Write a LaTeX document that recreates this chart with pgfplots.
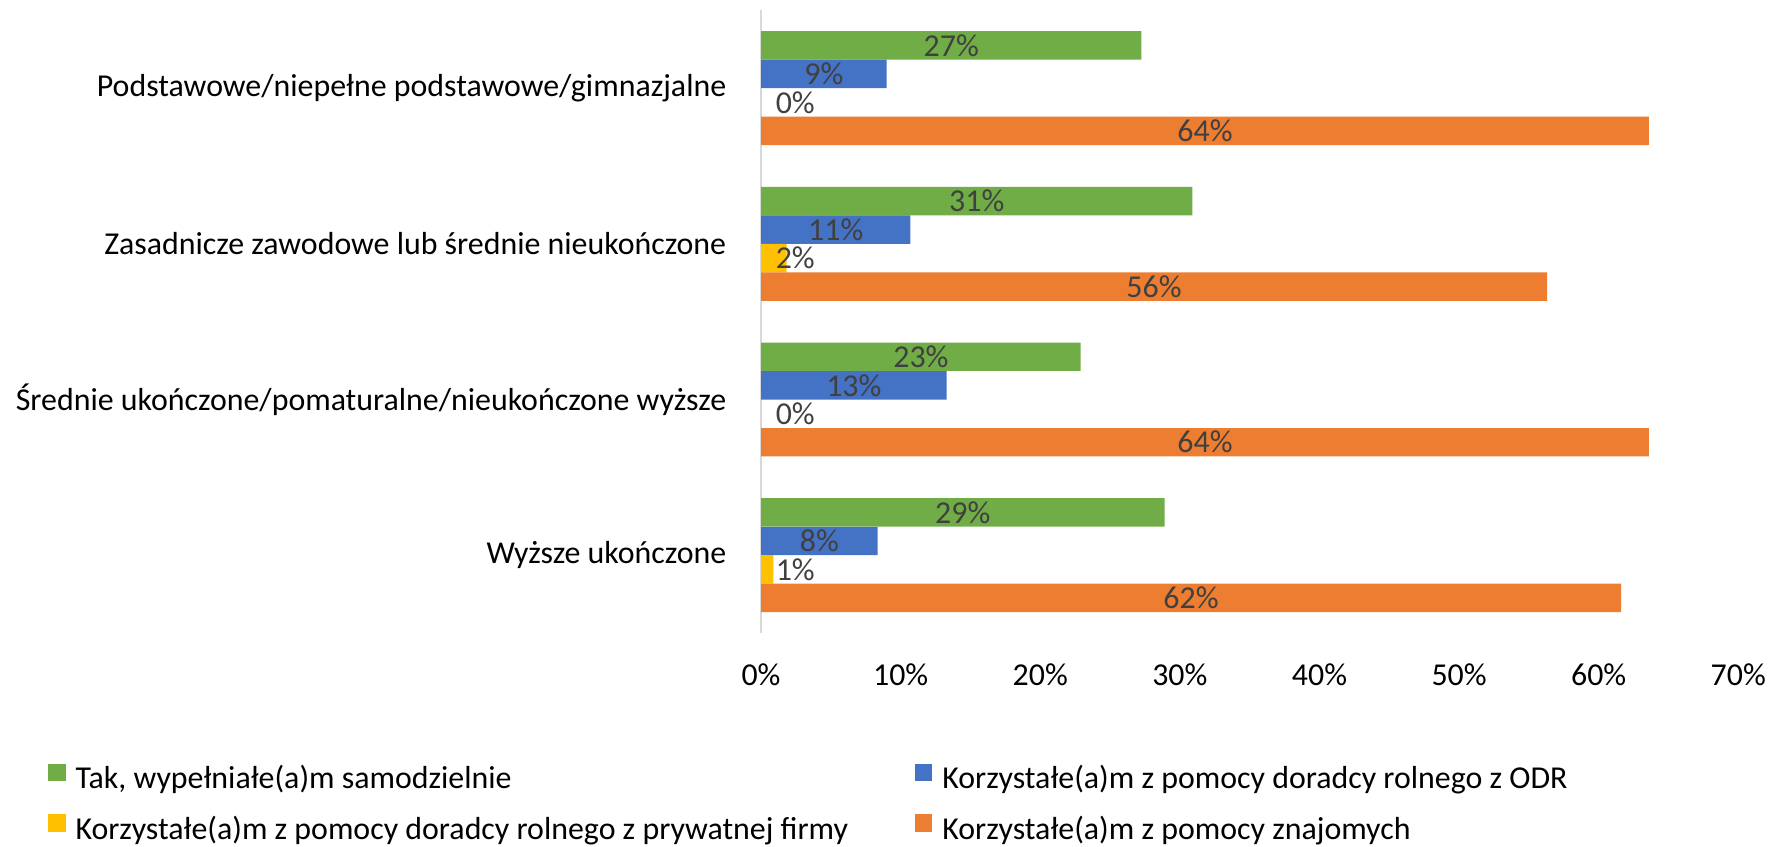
\documentclass[border=0pt]{standalone}
\usepackage{fontspec}
\setmainfont{Carlito}
\usepackage{pgfplots}
\usepackage{pgfplotstable}
\pgfplotsset{compat=1.18}

\definecolor{cgreen}{HTML}{70AD47}
\definecolor{cblue}{HTML}{4472C4}
\definecolor{cyellow}{HTML}{FFC000}
\definecolor{corange}{HTML}{ED7D31}
\definecolor{clabel}{HTML}{404040}
\definecolor{caxis}{HTML}{D9D9D9}
\newcommand\cf{\fontsize{9.07}{11}\selectfont}
\newcommand\lentry[1]{\makebox[238.8pt][l]{#1}}

% rows: 3 = top category, 0 = bottom
\pgfplotstableread{
y green blue yellow orange
3 27.25 9.0  0    63.6
2 30.9  10.7 1.84 56.3
1 22.9  13.3 0    63.6
0 28.9  8.35 0.88 61.6
}\data

\begin{document}
\begin{tikzpicture}
\path[use as bounding box] (-216.5pt,-60.6pt) rectangle (287.3pt,180.1pt);
\begin{axis}[
  at={(0pt,0pt)}, anchor=south west,
  scale only axis, width=278pt, height=177.2pt,
  xbar,
  xmin=0, xmax=70, ymin=-0.5, ymax=3.5,
  enlargelimits=false,
  axis lines*=left,
  axis line style={-},
  x axis line style={draw=none},
  y axis line style={draw=caxis, line width=0.55pt},
  major tick length=0pt,
  xtick={0,10,...,70},
  xticklabel={\pgfmathprintnumber{\tick}\%},
  xticklabel style={font=\cf, anchor=base, yshift=-14.8pt, inner sep=0pt},
  ytick={0,1,2,3},
  yticklabels={Wyższe ukończone,
    Średnie ukończone/pomaturalne/nieukończone wyższe,
    Zasadnicze zawodowe lub średnie nieukończone,
    Podstawowe/niepełne podstawowe/gimnazjalne},
  yticklabel style={font=\cf, anchor=east, xshift=-9.7pt, inner sep=0pt},
  /pgf/number format/assume math mode=true,
  bar width=8.1pt,
  point meta=x,
  visualization depends on=rawx \as \rawx,
  nodes near coords={\pgfmathprintnumber[fixed,precision=0]{\pgfplotspointmeta}\%},
  every node near coord/.append style={font=\cf, text=clabel, inner sep=0pt},
  every axis plot post/.append style={
    legend image code/.code={\fill[##1] (0pt,0pt) rectangle (4.95pt,4.95pt);}},
  legend columns=2,
  legend cell align=left,
  legend style={at={(-0.7295,-0.2096)}, anchor=north west, draw=none,
    inner sep=0pt, outer sep=0pt, font=\cf, row sep=5.2pt, column sep=0pt,
    nodes={inner sep=0pt, text height=6.5pt, text depth=2pt, font=\cf},
    /tikz/every odd column/.append style={column sep=2.85pt},
    /tikz/every even column/.append style={column sep=0pt}},
]
\addplot[fill=cgreen, draw=none, bar shift=12.16pt,
  nodes near coords style={anchor=center, shift={(axis direction cs:-\rawx/2,0)}}]
  table[x=green, y=y]{\data};
\addplot[fill=cblue, draw=none, bar shift=4.05pt,
  nodes near coords style={anchor=center, shift={(axis direction cs:-\rawx/2,0)}}]
  table[x=blue, y=y]{\data};
\addplot[fill=cyellow, draw=none, bar shift=-4.05pt,
  nodes near coords style={anchor=west, shift={(axis direction cs:-\rawx,0)}, xshift=4pt}]
  table[x=yellow, y=y]{\data};
\addplot[fill=corange, draw=none, bar shift=-12.16pt,
  nodes near coords style={anchor=center, shift={(axis direction cs:-\rawx/2,0)}}]
  table[x=orange, y=y]{\data};
\legend{\lentry{Tak, wypełniałe(a)m samodzielnie},
  \lentry{Korzystałe(a)m z pomocy doradcy rolnego z ODR},
  \lentry{Korzystałe(a)m z pomocy doradcy rolnego z prywatnej firmy},
  \lentry{Korzystałe(a)m z pomocy znajomych}}
\end{axis}
\end{tikzpicture}
\end{document}
